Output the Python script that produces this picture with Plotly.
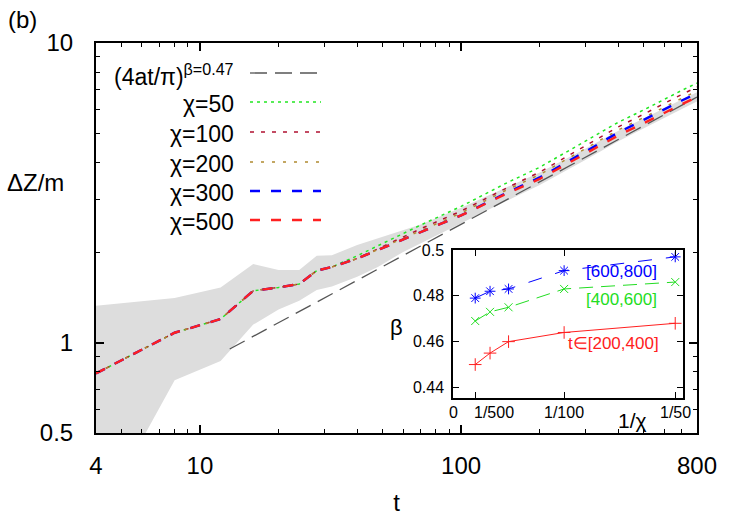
import plotly.graph_objects as go

# ---------------- data ----------------
t = [4, 8, 12, 16, 20, 24, 28, 32, 40, 48, 60, 70, 100, 150, 200, 300, 400, 500, 600, 700, 800]
chi500 = [0.79, 1.08, 1.20, 1.49, 1.53, 1.57, 1.74, 1.79, 1.91, 2.04, 2.21, 2.34, 2.66, 3.15, 3.52, 4.28, 4.92, 5.40, 5.86, 6.25, 6.60]
chi300 = [0.79, 1.08, 1.20, 1.49, 1.53, 1.57, 1.74, 1.79, 1.91, 2.04, 2.21, 2.34, 2.66, 3.17, 3.56, 4.35, 5.03, 5.54, 6.02, 6.43, 6.80]
chi200 = [0.79, 1.08, 1.20, 1.49, 1.53, 1.57, 1.74, 1.79, 1.91, 2.05, 2.23, 2.37, 2.71, 3.24, 3.64, 4.45, 5.13, 5.64, 6.13, 6.54, 6.92]
chi100 = [0.79, 1.08, 1.20, 1.49, 1.53, 1.57, 1.74, 1.79, 1.91, 2.06, 2.25, 2.40, 2.75, 3.29, 3.71, 4.55, 5.25, 5.79, 6.30, 6.74, 7.13]
chi50 = [0.79, 1.08, 1.20, 1.49, 1.53, 1.57, 1.74, 1.79, 1.95, 2.11, 2.32, 2.47, 2.85, 3.42, 3.85, 4.71, 5.44, 5.98, 6.50, 6.95, 7.35]
band_upper = [1.33, 1.41, 1.53, 1.83, 1.75, 1.75, 1.95, 1.96, 2.12, 2.23, 2.37, 2.48, 2.82, 3.30, 3.70, 4.45, 5.10, 5.60, 6.08, 6.48, 6.85]
band_lower = [0.25, 0.75, 0.87, 1.15, 1.29, 1.38, 1.50, 1.54, 1.66, 1.79, 2.01, 2.15, 2.50, 2.98, 3.36, 4.08, 4.70, 5.18, 5.63, 6.02, 6.38]
fit_t = [13, 800]
fit_y = [0.953, 6.60]

# inset
inv_chi = [1/500, 1/300, 1/200, 1/100, 1/50]
beta_200_400 = [0.450, 0.455, 0.460, 0.464, 0.468]
beta_400_600 = [0.469, 0.473, 0.475, 0.483, 0.486]
beta_600_800 = [0.479, 0.482, 0.483, 0.491, 0.497]
inset_xtick_vals = [0, 0.002, 0.01, 0.02]
inset_xtick_text = ["0", "1/500", "1/100", "1/50"]
inset_xlabel_pos = [0, 0.00365, 0.01, 0.02]

legend_labels = ["(4at/π)<sup>β=0.47</sup>", "χ=50", "χ=100", "χ=200", "χ=300", "χ=500"]

FONT = "Liberation Sans, Arial, Helvetica, sans-serif"

GREEN = "#22e622"
DKRED = "#b01030"
OLIVE = "#b08a30"
BLUE = "#0000ff"
RED = "#ff2020"
FITC = "#555555"
IGREEN = "#22dd22"

fig = go.Figure()

# shaded band
fig.add_trace(go.Scatter(x=t + t[::-1], y=band_upper + band_lower[::-1], fill="toself",
                         fillcolor="#dddddd", line=dict(width=0), mode="lines",
                         hoverinfo="skip", showlegend=False))
# fit
fig.add_trace(go.Scatter(x=fit_t, y=fit_y, mode="lines",
                         line=dict(color=FITC, width=1.3, dash="17px,8px"), showlegend=False))
styles = [
    (chi50, GREEN, 1.5, "3px,4px"),
    (chi100, DKRED, 1.5, "4px,7px"),
    (chi200, OLIVE, 1.5, "3px,8px"),
    (chi300, BLUE, 2.4, "10px,11px"),
    (chi500, RED, 2.4, "10px,11px"),
]
for ys, c, w, d in styles:
    fig.add_trace(go.Scatter(x=t, y=ys, mode="lines", line=dict(color=c, width=w, dash=d),
                             showlegend=False))

# inset traces
fig.add_trace(go.Scatter(x=inv_chi, y=beta_200_400, mode="lines+markers", xaxis="x2", yaxis="y2",
                         line=dict(color=RED, width=1),
                         marker=dict(symbol="cross-thin-open", size=9, color=RED, line=dict(width=1, color=RED)),
                         showlegend=False))
fig.add_trace(go.Scatter(x=inv_chi, y=beta_400_600, mode="lines+markers", xaxis="x2", yaxis="y2",
                         line=dict(color=IGREEN, width=1, dash="14px,8px"),
                         marker=dict(symbol="x-thin-open", size=8, color=IGREEN, line=dict(width=1, color=IGREEN)),
                         showlegend=False))
fig.add_trace(go.Scatter(x=inv_chi, y=beta_600_800, mode="lines+markers", xaxis="x2", yaxis="y2",
                         line=dict(color=BLUE, width=1, dash="14px,14px"),
                         marker=dict(symbol="asterisk-open", size=9, color=BLUE, line=dict(width=1, color=BLUE)),
                         showlegend=False))

# ---------------- manual legend ----------------
L, R, T, B = 96, 53, 43, 92
W, H = 750, 525
pw, ph = W - L - R, H - T - B


def px(xp):
    return (xp - L) / pw


def py(yp):
    return (H - B - yp) / ph


rows = [73, 102, 132, 162, 191, 220]
samples = [(FITC, 1.3, "17px,8px"), (GREEN, 1.5, "3px,4px"), (DKRED, 1.5, "4px,7px"),
           (OLIVE, 1.5, "3px,8px"), (BLUE, 2.4, "10px,11px"), (RED, 2.4, "10px,11px")]
annotations = []
shapes = []
for lab, yrow, (c, w, d) in zip(legend_labels, rows, samples):
    annotations.append(dict(x=px(236), y=py(yrow + 2), xref="paper", yref="paper", text=lab,
                            showarrow=False, xanchor="right", yanchor="middle",
                            font=dict(family=FONT, size=23, color="black")))
    shapes.append(dict(type="line", xref="paper", yref="paper", x0=px(250), x1=px(321),
                       y0=py(yrow), y1=py(yrow), line=dict(color=c, width=w, dash=d)))


def note(x, y, text, size, color="black", xref="paper", yref="paper"):
    return dict(x=x, y=y, xref=xref, yref=yref, text=text, showarrow=False,
                xanchor="center", yanchor="middle",
                font=dict(family=FONT, size=size, color=color))


annotations += [
    note(px(35), py(183), "ΔZ/m", 24),
    note(px(22), py(19), "(b)", 24),
    note(px(396), py(327), "β", 22),
    note(px(632), py(420), "1/χ", 21),
    note(0.01515, 0.4905, "[600,800]", 17, BLUE, "x2", "y2"),
    note(0.01515, 0.4786, "[400,600]", 17, IGREEN, "x2", "y2"),
    note(0.01444, 0.4594, "t∈[200,400]", 17, RED, "x2", "y2"),
]
for xv, txt in zip(inset_xlabel_pos, inset_xtick_text):
    annotations.append(note(xv, py(412), txt, 16, "black", "x2", "paper"))

axis_common = dict(showgrid=False, zeroline=False, showline=True, linecolor="black", linewidth=2,
                   mirror="allticks", ticks="inside", tickcolor="black", tickwidth=1.5,
                   tickfont=dict(family=FONT, size=24, color="black"))

inset_common = dict(showgrid=False, zeroline=False, showline=True, linecolor="black", linewidth=1.5,
                    mirror="allticks", ticks="inside", tickcolor="black", ticklen=6, tickangle=0,
                    tickfont=dict(family=FONT, size=16, color="black"))

fig.update_layout(
    width=W, height=H, margin=dict(l=L, r=R, t=T, b=B),
    paper_bgcolor="white", plot_bgcolor="white",
    font=dict(family=FONT, color="black"),
    showlegend=False,
    xaxis=dict(type="log", range=[0.60206, 2.90309], tickmode="array",
               tickvals=[4, 10, 100, 800], ticktext=["4", "10", "100", "800"], ticklen=8,
               ticklabelstandoff=10,
               minor=dict(tickmode="array", tickvals=[5, 6, 7, 8, 9, 20, 30, 40, 50, 60, 70, 80, 90,
                                                      200, 300, 400, 500, 600, 700],
                          ticks="inside", ticklen=4, tickcolor="black", tickwidth=1.2),
               title=dict(text="t", font=dict(family=FONT, size=24), standoff=16),
               **axis_common),
    yaxis=dict(type="log", range=[-0.30103, 1.0], tickmode="array",
               tickvals=[0.5, 1, 10], ticktext=["0.5", "1", "10"], ticklen=8,
               ticklabelstandoff=16,
               minor=dict(tickmode="array", tickvals=[0.6, 0.7, 0.8, 0.9, 2, 3, 4, 5, 6, 7, 8, 9],
                          ticks="inside", ticklen=4, tickcolor="black", tickwidth=1.2),
               **axis_common),
    xaxis2=dict(domain=[px(453), px(683)], anchor="y2", range=[0, 0.0207],
                tickmode="array", tickvals=inset_xtick_vals, showticklabels=False,
                **inset_common),
    yaxis2=dict(domain=[py(398), py(250)], anchor="x2", range=[0.4354, 0.5],
                tickmode="array", tickvals=[0.44, 0.46, 0.48, 0.5], ticktext=["0.44", "0.46", "0.48", "0.5"],
                ticklabelstandoff=4, **inset_common),
    annotations=annotations,
    shapes=shapes,
)

fig.write_html("out.html")
